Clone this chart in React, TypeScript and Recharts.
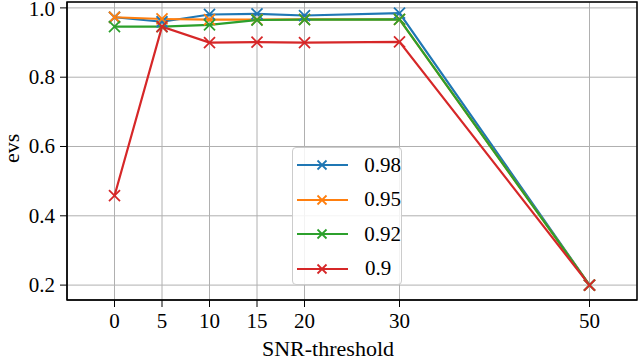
import { LineChart, Line, XAxis, YAxis, CartesianGrid, ReferenceArea } from 'recharts';

const snr = [0, 5, 10, 15, 20, 30, 50];
const s098 = [0.973, 0.96, 0.981, 0.983, 0.978, 0.985, 0.2];
const s095 = [0.973, 0.968, 0.966, 0.966, 0.967, 0.967, 0.2];
const s092 = [0.946, 0.946, 0.951, 0.965, 0.966, 0.967, 0.2];
const s090 = [0.458, 0.946, 0.9, 0.901, 0.9, 0.902, 0.2];
const xTicks = [0, 5, 10, 15, 20, 30, 50];
const yTicks = [0.2, 0.4, 0.6, 0.8, 1.0];

const series = [
  { key: 'a', name: '0.98', values: s098, color: '#1f77b4' },
  { key: 'b', name: '0.95', values: s095, color: '#ff7f0e' },
  { key: 'c', name: '0.92', values: s092, color: '#2ca02c' },
  { key: 'd', name: '0.9', values: s090, color: '#d62728' },
];

const data = snr.map((x, i) => {
  const row: any = { x };
  series.forEach((s) => (row[s.key] = s.values[i]));
  return row;
});

const font = 'Liberation Serif, serif';

const cross = (color: string) => (props: any) => {
  const { cx, cy, index } = props;
  if (cx == null || cy == null) return <g key={index} />;
  const r = 5.5;
  return (
    <g key={index}>
      <line x1={cx - r} y1={cy - r} x2={cx + r} y2={cy + r} stroke={color} strokeWidth={1.8} />
      <line x1={cx - r} y1={cy + r} x2={cx + r} y2={cy - r} stroke={color} strokeWidth={1.8} />
    </g>
  );
};

const XTick = (props: any) => {
  const { x, y, payload } = props;
  return (
    <text x={x} y={y + 16} textAnchor="middle" fill="#000" style={{ fontFamily: font, fontSize: 21 }}>
      {payload.value}
    </text>
  );
};

const YTick = (props: any) => {
  const { x, y, payload } = props;
  return (
    <text x={x} y={y + 7} textAnchor="end" fill="#000" style={{ fontFamily: font, fontSize: 21 }}>
      {Number(payload.value).toFixed(1)}
    </text>
  );
};

const LegendBox = () => (
  <div
    style={{
      position: 'absolute',
      left: 292,
      top: 147,
      background: 'rgba(255,255,255,0.85)',
      border: '1px solid #cccccc',
      borderRadius: 4,
      width: 110,
      height: 138,
      boxSizing: 'border-box',
      fontFamily: font,
      fontSize: 21,
    }}
  >
    {series.map((s) => (
      <div key={s.key} style={{ display: 'flex', alignItems: 'center', height: 34.5 }}>
        <svg width={68} height={20} style={{ marginLeft: 4 }}>
          <line x1={0} y1={10} x2={51} y2={10} stroke={s.color} strokeWidth={2.2} />
          <line x1={20.5} y1={5.5} x2={29.5} y2={14.5} stroke={s.color} strokeWidth={1.8} />
          <line x1={20.5} y1={14.5} x2={29.5} y2={5.5} stroke={s.color} strokeWidth={1.8} />
        </svg>
        <span style={{ color: '#000' }}>{s.name}</span>
      </div>
    ))}
  </div>
);

export default function App() {
  return (
    <div style={{ position: 'absolute', left: 0, top: 0, width: 640, height: 360, background: '#fff', fontFamily: font }}>
      <LineChart width={640} height={360} data={data} margin={{ top: 2, right: 3, left: 0, bottom: 0 }}>
        <CartesianGrid stroke="#b0b0b0" strokeWidth={1} />
        <XAxis
          dataKey="x"
          type="number"
          domain={[-5, 55]}
          ticks={xTicks}
          height={60}
          tickSize={7}
          tickMargin={5}
          stroke="#000"
          tick={<XTick />}
          label={{ value: 'SNR-threshold', position: 'insideBottom', offset: 4, dx: -24, fill: '#000', fontFamily: font, fontSize: 22 }}
        />
        <YAxis
          type="number"
          domain={[0.157, 1.017]}
          ticks={yTicks}
          width={67}
          tickSize={7}
          tickMargin={5}
          stroke="#000"
          tick={<YTick />}
          label={{ value: 'evs', angle: -90, position: 'insideLeft', offset: 11, dy: 12, fill: '#000', fontFamily: font, fontSize: 22 }}
        />
        <ReferenceArea x1={-5} x2={55} y1={0.157} y2={1.017} fill="none" stroke="#000" strokeWidth={1.5} />
        {series.map((s) => (
          <Line
            key={s.key}
            dataKey={s.key}
            name={s.name}
            stroke={s.color}
            strokeWidth={2.2}
            dot={cross(s.color)}
            activeDot={false}
            isAnimationActive={false}
          />
        ))}
      </LineChart>
      <LegendBox />
    </div>
  );
}
